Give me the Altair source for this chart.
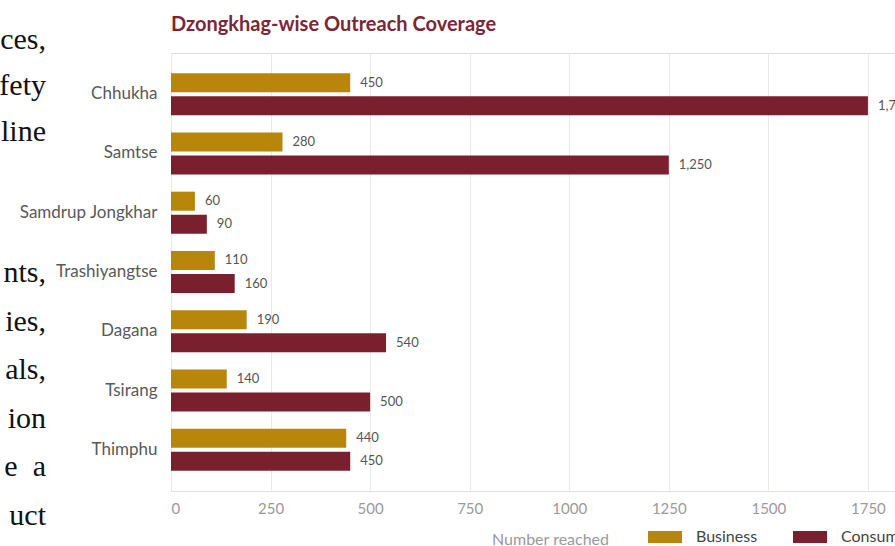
import altair as alt
import pandas as pd

districts = ["Chhukha", "Samtse", "Samdrup Jongkhar", "Trashiyangtse", "Dagana", "Tsirang", "Thimphu"]
business = [450, 280, 60, 110, 190, 140, 440]
consumer = [1750, 1250, 90, 160, 540, 500, 450]
series = ["Business", "Consumer"]
colors = ["#B8860B", "#7A1F2E"]
x_ticks = [0, 250, 500, 750, 1000, 1250, 1500, 1750]
chart_title = "Dzongkhag-wise Outreach Coverage"
page_lines_top = ["ces,", "fety", "line"]
page_lines_bottom = ["nts,", "ies,", "als,", "ion", "e\u00a0\u00a0a", "uct"]

rows = []
for d, b, c in zip(districts, business, consumer):
    rows.append({"district": d, "series": "Business", "value": b})
    rows.append({"district": d, "series": "Consumer", "value": c})
df = pd.DataFrame(rows)

y_axis = alt.Axis(title=None, domain=False, ticks=False, grid=False, labelPadding=14,
                  labelFontSize=17, labelColor="#595959", labelFont="Lato")
y = alt.Y("district:N", sort=districts,
          scale=alt.Scale(paddingInner=0.29, paddingOuter=0.34), axis=y_axis)
yoff = alt.YOffset("series:N", sort=series, scale=alt.Scale(paddingInner=0.174, paddingOuter=0))
x = alt.X(
    "value:Q",
    scale=alt.Scale(domain=[0, 1818], nice=False, zero=True),
    axis=alt.Axis(values=x_ticks, format="d", title="Number reached", ticks=False,
                  labelFontSize=15, labelColor="#9a9a9a", labelPadding=10, labelFont="Lato",
                  domainColor="#e3dfda", gridColor="#ece8e3", grid=True,
                  titleFontSize=16, titleFontWeight="normal", titleColor="#9a9a9a", titleFont="Lato",
                  titleX=379, titleY=53, titleAlign="center", titleBaseline="alphabetic"),
)

base = alt.Chart(df)

bars = base.mark_bar().encode(
    x=x,
    y=y,
    yOffset=yoff,
    color=alt.Color(
        "series:N",
        sort=series,
        scale=alt.Scale(domain=series, range=colors),
        legend=alt.Legend(title=None, orient="none", legendX=477, legendY=467, direction="horizontal",
                          symbolType="M-1,-0.353h2v0.706h-2z", symbolSize=1156, symbolStrokeWidth=0,
                          symbolOpacity=1, labelFontSize=16, labelColor="#444444", labelFont="Lato",
                          labelOffset=14, columnPadding=35, padding=0),
    ),
)

labels = base.mark_text(align="left", baseline="middle", dx=10, fontSize=13, color="#555555", font="Lato").encode(
    x=alt.X("value:Q"),
    y=y,
    yOffset=yoff,
    text=alt.Text("value:Q", format=","),
)

title_mark = alt.Chart(alt.Data(values=[{}])).mark_text(
    text=chart_title, font="Lato", fontSize=20, fontWeight="bold", color="#7B2636",
    align="left", baseline="alphabetic"
).encode(x=alt.value(0), y=alt.value(-22))

page_top = alt.Chart(alt.Data(values=[{}])).mark_text(
    text=page_lines_top, font="Liberation Serif", fontSize=30, align="right",
    baseline="alphabetic", lineHeight=46, color="#111111"
).encode(x=alt.value(-125), y=alt.value(-4))

page_bottom = alt.Chart(alt.Data(values=[{}])).mark_text(
    text=page_lines_bottom, font="Liberation Serif", fontSize=30, align="right",
    baseline="alphabetic", lineHeight=48.6, color="#111111"
).encode(x=alt.value(-125), y=alt.value(229))

chart = alt.layer(bars, labels, title_mark, page_top, page_bottom).properties(
    width=724,
    height=438,
    autosize=alt.AutoSizeParams(type="none"),
    padding={"left": 171, "top": 53, "right": 0, "bottom": 55},
).configure_view(stroke=None, strokeWidth=0).configure_axisY(grid=False).configure(background="white")

chart.save("out.html", embed_options={"renderer": "svg", "actions": False})
